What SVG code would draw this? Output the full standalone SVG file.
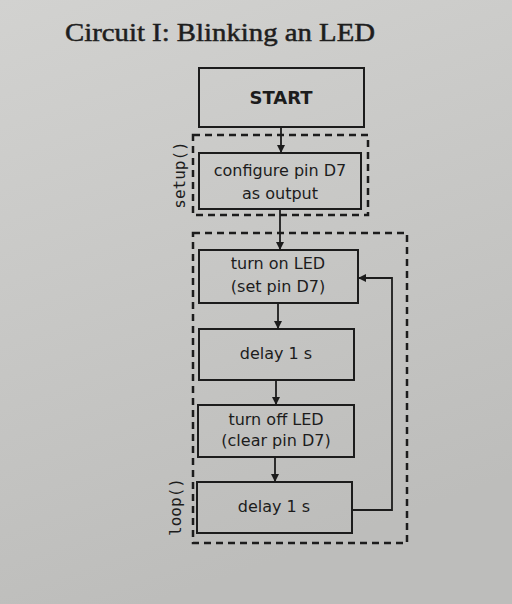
<svg xmlns="http://www.w3.org/2000/svg" width="512" height="604" viewBox="0 0 512 604">
<defs>
<linearGradient id="bg" x1="0" y1="0" x2="0.3" y2="1">
<stop offset="0" stop-color="#d2d2d0"/>
<stop offset="1" stop-color="#bdbdbb"/>
</linearGradient>
<marker id="ah" viewBox="0 0 10 10" refX="10" refY="5" markerWidth="8" markerHeight="8" orient="auto" markerUnits="userSpaceOnUse">
<path d="M0,0 L10,5 L0,10 z" fill="#1c1c1c"/>
</marker>
<style>
.box{fill:none;stroke:#1c1c1c;stroke-width:2}
.dash{fill:none;stroke:#1c1c1c;stroke-width:2.5;stroke-dasharray:7,5}
.t{font-family:"DejaVu Sans","Liberation Sans",sans-serif;font-size:16px;fill:#1c1c1c;text-anchor:middle}
.b{font-weight:bold;font-size:18px}
.m{font-family:"DejaVu Sans Mono","Liberation Mono",monospace;font-size:16px;fill:#1c1c1c;text-anchor:middle}
.c{fill:none;stroke:#1c1c1c;stroke-width:1.8}
</style>
</defs>
<rect width="512" height="604" fill="url(#bg)"/>
<text x="65" y="41" font-family="Liberation Serif,serif" font-size="25" fill="#1e1e1e" stroke="#1e1e1e" stroke-width="0.5" textLength="310" lengthAdjust="spacingAndGlyphs">Circuit I: Blinking an LED</text>
<g id="setup-group">
<rect class="dash" x="193" y="135" width="175" height="80"/>
<text class="m" transform="translate(180,175) rotate(-90)" y="5">setup()</text>
</g>
<g id="loop-group">
<rect class="dash" x="193" y="233" width="214" height="310"/>
<text class="m" transform="translate(176,507) rotate(-90)" y="5">loop()</text>
</g>
<g id="start">
<rect class="box" x="199" y="68" width="165" height="59"/>
<text class="t b" x="281" y="104">START</text>
</g>
<g id="configure">
<rect class="box" x="199" y="153" width="162" height="56"/>
<text class="t" x="280" y="176">configure pin D7</text>
<text class="t" x="280" y="199">as output</text>
</g>
<g id="turn-on">
<rect class="box" x="199" y="250" width="159" height="53"/>
<text class="t" x="278" y="269">turn on LED</text>
<text class="t" x="278" y="292">(set pin D7)</text>
</g>
<g id="delay1">
<rect class="box" x="199" y="329" width="155" height="51"/>
<text class="t" x="276" y="359">delay 1 s</text>
</g>
<g id="turn-off">
<rect class="box" x="198" y="405" width="156" height="52"/>
<text class="t" x="276" y="425">turn off LED</text>
<text class="t" x="276" y="446">(clear pin D7)</text>
</g>
<g id="delay2">
<rect class="box" x="197" y="482" width="155" height="51"/>
<text class="t" x="274" y="512">delay 1 s</text>
</g>
<g id="connectors">
<line class="c" x1="281" y1="127" x2="281" y2="153" marker-end="url(#ah)"/>
<line class="c" x1="280" y1="209" x2="280" y2="250" marker-end="url(#ah)"/>
<line class="c" x1="278" y1="303" x2="278" y2="329" marker-end="url(#ah)"/>
<line class="c" x1="276" y1="380" x2="276" y2="405" marker-end="url(#ah)"/>
<line class="c" x1="275" y1="457" x2="275" y2="482" marker-end="url(#ah)"/>
<polyline class="c" points="352,510 392,510 392,278 358,278" marker-end="url(#ah)"/>
</g>
</svg>
